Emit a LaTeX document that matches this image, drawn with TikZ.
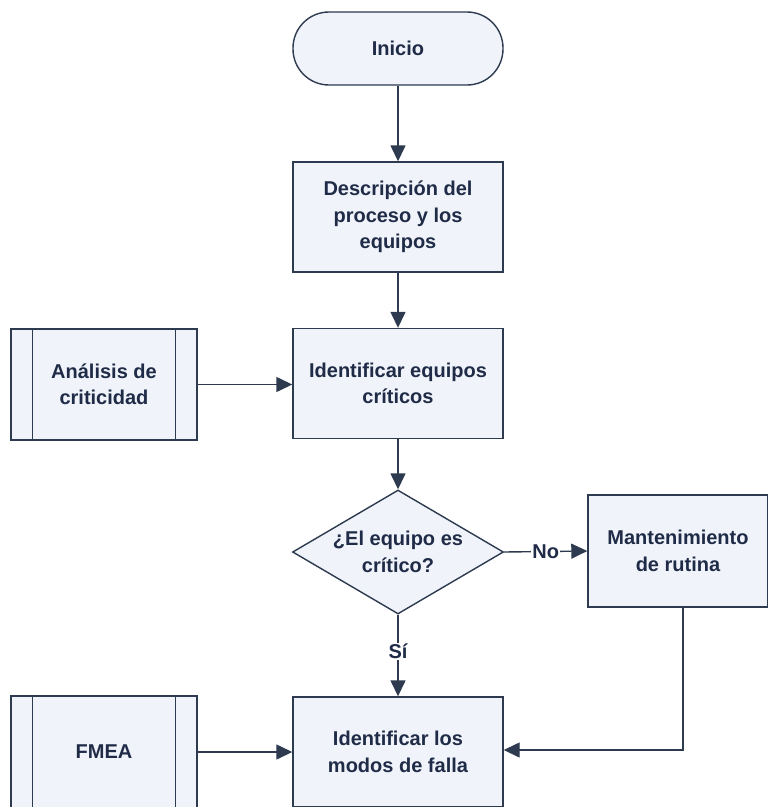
\documentclass[tikz,border=0pt]{standalone}
\usepackage{fontspec}
\setmainfont{Liberation Sans}
\usetikzlibrary{arrows.meta,shapes.geometric,positioning}
\definecolor{boxfill}{HTML}{F0F4FA}
\definecolor{boxline}{HTML}{2D3A4F}
\definecolor{txt}{HTML}{1F2B47}
\tikzset{
  base/.style={draw=boxline, fill=boxfill, line width=1.4pt, text=txt, font=\fontsize{20}{26.5}\selectfont\bfseries, align=center, inner sep=0pt},
  proc/.style={base, rectangle, minimum width=210pt, minimum height=110pt},
  sub/.style={base, rectangle, minimum width=186pt, minimum height=111pt},
  term/.style={base, rectangle, rounded corners=36pt, minimum width=210pt, minimum height=73pt},
  dec/.style={base, diamond, aspect=1.7, minimum width=211pt, minimum height=124pt},
  conn/.style={draw=boxline, line width=1.4pt, -{Triangle[length=16pt,width=15pt]}},
  lbl/.style={text=txt, font=\fontsize{20}{22}\selectfont\bfseries, fill=white, inner sep=1pt}
}
\begin{document}
\begin{tikzpicture}[x=1pt,y=-1pt]
\fill[white] (0,0) rectangle (768,807);
\useasboundingbox (0,0) rectangle (768,807);
\node[term] (inicio) at (398,48.5) {Inicio};
\node[proc] (desc) at (398,217) {Descripción del\\proceso y los\\equipos};
\node[proc] (ident) at (398,383.5) {Identificar equipos\\críticos};
\node[sub] (anal) at (104,384.5) {Análisis de\\criticidad};
\draw[boxline, line width=1.4pt] ([xshift=22pt]anal.north west) -- ([xshift=22pt]anal.south west);
\draw[boxline, line width=1.4pt] ([xshift=-22pt]anal.north east) -- ([xshift=-22pt]anal.south east);
\node[dec] (dec) at (398,552) {¿El equipo es\\crítico?};
\node[proc, minimum width=180pt, minimum height=112pt] (mant) at (678,551) {Mantenimiento\\de rutina};
\node[proc] (modos) at (398,752) {Identificar los\\modos de falla};
\node[sub, minimum height=112pt] (fmea) at (104,752) {FMEA};
\draw[boxline, line width=1.4pt] ([xshift=22pt]fmea.north west) -- ([xshift=22pt]fmea.south west);
\draw[boxline, line width=1.4pt] ([xshift=-22pt]fmea.north east) -- ([xshift=-22pt]fmea.south east);
\coordinate (corner) at (683,750);
\draw[conn] (inicio) -- (desc);
\draw[conn] (desc) -- (ident);
\draw[conn] (anal.east) -- (ident.west |- anal.east);
\draw[conn] (ident) -- (dec);
\draw[conn] (dec.east) -- node[lbl] {No} (mant.west);
\draw[conn] (dec.south) -- node[lbl, pos=0.45] {Sí} (modos.north);
\draw[conn] (fmea.east) -- (modos.west);
\draw[conn] (mant.south -| corner) -- (corner) -- (modos.east |- corner);
\end{tikzpicture}
\end{document}
